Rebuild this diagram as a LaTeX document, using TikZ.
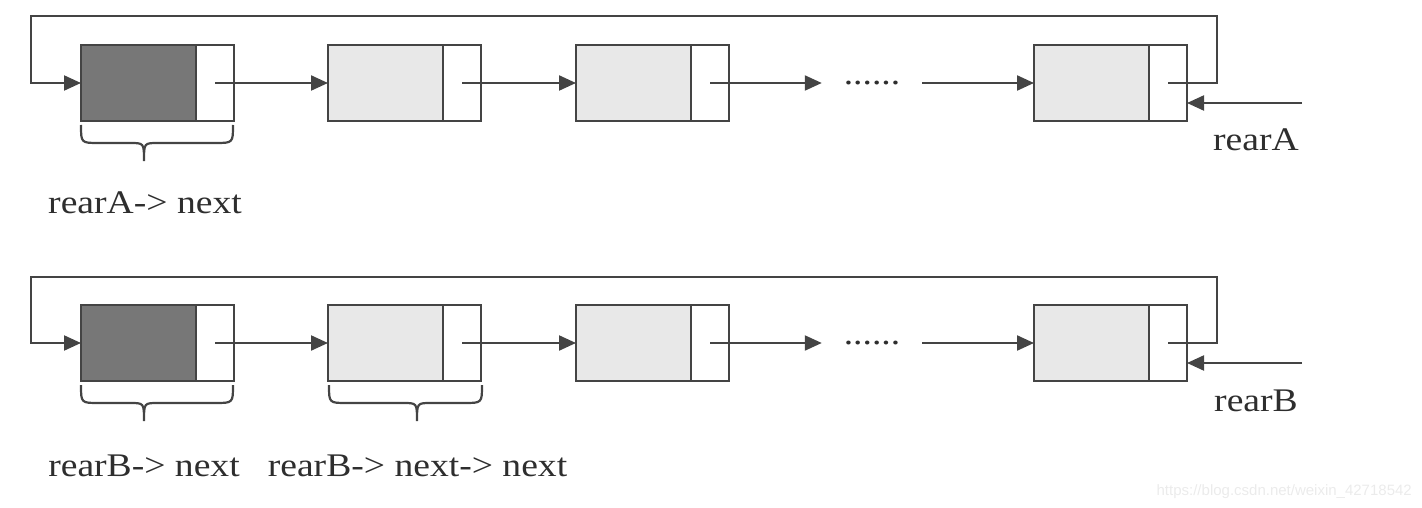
\documentclass[tikz,border=0pt]{standalone}
\usepackage{fontspec}
\setmainfont{Liberation Serif}[FakeStretch=1.14]
\newfontfamily\wmfont{Liberation Sans}
\usetikzlibrary{arrows.meta}
\definecolor{ln}{HTML}{444444}
\definecolor{darkfill}{HTML}{777777}
\definecolor{lightfill}{HTML}{E8E8E8}
\definecolor{txt}{HTML}{2E2E2E}
\newcommand\drawcurly[4]{% left x, right x, tip x, top y
  \draw[brc] (#1,#4) .. controls (#1,#4+18) .. (#1+18,#4+18) -- (#3-14,#4+18)
    .. controls (#3,#4+18) .. (#3,#4+36) .. controls (#3,#4+18) .. (#3+14,#4+18)
    -- (#2-18,#4+18) .. controls (#2,#4+18) .. (#2,#4);}
\begin{document}
\begin{tikzpicture}[x=1pt,y=-1pt,
  box/.style={draw=ln, line width=2.2pt, minimum height=76pt, inner sep=0pt, outer sep=0pt},
  datadark/.style={box, fill=darkfill, minimum width=115pt},
  datalight/.style={box, fill=lightfill, minimum width=115pt},
  ptrbox/.style={box, fill=white, minimum width=38pt, anchor=west},
  link/.style={draw=ln, line width=2.2pt, -{Triangle[length=17pt,width=15pt]}},
  brc/.style={draw=ln, line width=2.2pt},
  lbl/.style={text=txt, font=\fontsize{33}{40}\selectfont, inner sep=0pt, anchor=base},
  dotsnode/.style={text=txt, font=\fontsize{33}{40}\selectfont, inner ysep=0pt, inner xsep=22pt, outer sep=0pt}
]
\useasboundingbox (0,0) rectangle (1422,508);

% ---------- Row A ----------
\node[datadark]  (a1d) at (138.5,83) {};
\node[ptrbox]    (a1p) at (a1d.east) {};
\node[datalight] (a2d) at (385.5,83) {};
\node[ptrbox]    (a2p) at (a2d.east) {};
\node[datalight] (a3d) at (633.5,83) {};
\node[ptrbox]    (a3p) at (a3d.east) {};
\node[dotsnode]  (aDots) at (872,83) {......};
\node[datalight] (a4d) at (1091.5,83) {};
\node[ptrbox]    (a4p) at (a4d.east) {};

\draw[link] (a1p.center) -- (a2d.west);
\draw[link] (a2p.center) -- (a3d.west);
\draw[link] (a3p.center) -- (aDots.west);
\draw[link] (aDots.east) -- (a4d.west);

\coordinate (aTR) at (1217,16);
\coordinate (aTL) at (31,16);
\draw[link] (a4p.center) -| (aTR) -- (aTL) |- (a1d.west);

\coordinate (rAs) at (1302,103);
\draw[link] (rAs) -- (rAs -| a4p.east);
\node[lbl] (rAl) at (1256,151) {rearA};

\drawcurly{81}{233}{144}{125}
\node[lbl] (lA1) at (145,213) {rearA-> next};

% ---------- Row B ----------
\node[datadark]  (b1d) at (138.5,343) {};
\node[ptrbox]    (b1p) at (b1d.east) {};
\node[datalight] (b2d) at (385.5,343) {};
\node[ptrbox]    (b2p) at (b2d.east) {};
\node[datalight] (b3d) at (633.5,343) {};
\node[ptrbox]    (b3p) at (b3d.east) {};
\node[dotsnode]  (bDots) at (872,343) {......};
\node[datalight] (b4d) at (1091.5,343) {};
\node[ptrbox]    (b4p) at (b4d.east) {};

\draw[link] (b1p.center) -- (b2d.west);
\draw[link] (b2p.center) -- (b3d.west);
\draw[link] (b3p.center) -- (bDots.west);
\draw[link] (bDots.east) -- (b4d.west);

\coordinate (bTR) at (1217,277);
\coordinate (bTL) at (31,277);
\draw[link] (b4p.center) -| (bTR) -- (bTL) |- (b1d.west);

\coordinate (rBs) at (1302,363);
\draw[link] (rBs) -- (rBs -| b4p.east);
\node[lbl] (rBl) at (1256,411) {rearB};

\drawcurly{81}{233}{144}{385}
\drawcurly{329}{482}{417}{385}
\node[lbl] (lB1) at (144,476) {rearB-> next};
\node[lbl] (lB2) at (417.5,476) {rearB-> next-> next};

% watermark
\node[font=\wmfont\fontsize{15}{18}\selectfont, text=black!8, inner sep=0pt, anchor=base east] (wm) at (1412,495) {https://blog.csdn.net/weixin\_42718542};
\end{tikzpicture}
\end{document}
